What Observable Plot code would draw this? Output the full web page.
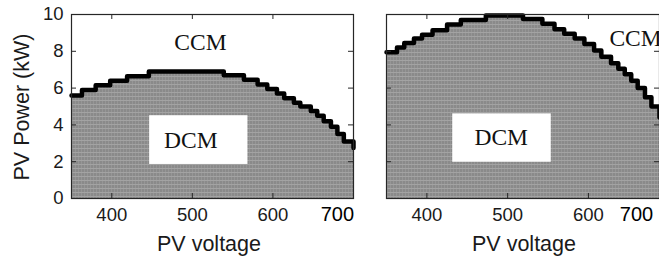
<!DOCTYPE html>
<html><head><meta charset="utf-8">
<script src="https://cdn.jsdelivr.net/npm/d3@7"></script>
<script src="https://cdn.jsdelivr.net/npm/@observablehq/plot@0.6"></script>
<style>
html,body{margin:0;padding:0;background:#fff;overflow:hidden;width:659px;height:258px}
#wrap{position:relative;width:659px;height:258px;overflow:hidden}
.p{position:absolute;top:0}
</style></head><body><div id="wrap"></div>
<script>
// Boundary between DCM (below) and CCM (above)
const leftVoltage = [350,363,380,398,419,446,539,564,581,593,605,614,626,634,647,655,663,672,680,688,700];
const leftPower   = [5.6,5.9,6.15,6.4,6.65,6.9,6.7,6.45,6.2,5.95,5.7,5.45,5.2,5.0,4.75,4.5,4.2,3.9,3.5,3.1,2.75];
const rightVoltage = [350,363,372,384,394,407,425,442,473,519,543,558,570,583,595,607,616,628,637,645,653,661,670,678,688];
const rightPower   = [7.95,8.2,8.45,8.7,8.9,9.15,9.45,9.7,9.95,9.75,9.5,9.2,8.95,8.7,8.4,8.05,7.7,7.35,7.05,6.75,6.4,6.0,5.5,5.0,4.4];
const xTicks = [400,500,600];
const yTicks = [0,2,4,6,8,10];
const lastTickLabel = ["700"];
const leftCCM = [{x:510,y:8.48,t:"CCM"}];
const leftDCM = [{x:498,y:3.15,t:"DCM"}];
const rightCCM = [{x:626,y:8.72,t:"CCM"}];
const rightDCM = [{x:492,y:3.33,t:"DCM"}];
const leftBox = [{x1:447,x2:569,y1:1.85,y2:4.5}];
const rightBox = [{x1:432,x2:554,y1:1.97,y2:4.6}];

function defs(id){
  return () => {
    const ns="http://www.w3.org/2000/svg";
    const d=document.createElementNS(ns,"defs");
    d.innerHTML=`<pattern id="${id}" width="3" height="4" patternUnits="userSpaceOnUse">
      <rect width="3" height="4" fill="#8a8a8a"/>
      <rect y="0" width="3" height="1" fill="#a3a3a3"/>
      <rect x="0" y="1" width="1" height="3" fill="#969696"/>
    </pattern>`;
    return d;
  };
}

const PH = 184; // plot height in px
const serif = {fontFamily:"Liberation Serif",fontSize:23.5,fill:"#111"};
const sans = {fontFamily:"Liberation Sans",fill:"#1a1a1a"};

function panel(vx, vy, xmax, ccm, dcm, ccmAnchor, box, showY, width, ml, pw, lastX){
  const id = "pat"+(showY?"L":"R");
  const data = vx.map((v,i)=>({v, p: vy[i]}));
  const marks = [
    defs(id),
    Plot.areaY(data,{x:"v",y:"p",curve:"step-after",fill:`url(#${id})`}),
    Plot.lineY(data,{x:"v",y:"p",curve:"step-after",stroke:"#000",strokeWidth:4.5}),
    Plot.rect(box,{x1:"x1",x2:"x2",y1:"y1",y2:"y2",fill:"#fff"}),
    Plot.text(ccm,{x:"x",y:"y",text:"t",textAnchor:ccmAnchor,...serif}),
    Plot.text(dcm,{x:"x",y:"y",text:"t",textAnchor:"middle",...serif}),
    // inward ticks (MATLAB box style)
    Plot.tickX(xTicks,{x:d=>d,insetTop:PH-5,stroke:"#262626"}),
    Plot.tickX(xTicks,{x:d=>d,insetBottom:PH-5,stroke:"#262626"}),
    Plot.tickY(yTicks,{y:d=>d,insetRight:pw-5,stroke:"#262626"}),
    Plot.tickY(yTicks,{y:d=>d,insetLeft:pw-5,stroke:"#262626"}),
    // tick labels
    Plot.text(xTicks,{x:d=>d,text:d=>String(d),frameAnchor:"bottom",dy:22,fontSize:18.5,...sans}),
    showY ? Plot.text(yTicks,{y:d=>d,text:d=>String(d),frameAnchor:"left",dx:-8,textAnchor:"end",fontSize:18.5,...sans}) : null,
    Plot.frame({stroke:"#262626",strokeWidth:1.2}),
    Plot.text(lastTickLabel,{x:lastX,frameAnchor:"bottom",dy:22,fontSize:20,fontFamily:"Liberation Sans",fill:"#000",text:d=>d})
  ];
  return Plot.plot({
    width, height:258, marginLeft:ml, marginRight: width - ml - pw, marginTop:14, marginBottom:60,
    x:{domain:[350,xmax], label:null, axis:null},
    y:{domain:[0,10], label:null, axis:null},
    style:{background:"transparent",overflow:"visible"},
    marks
  });
}

const wrap=document.getElementById("wrap");
const L = panel(leftVoltage,leftPower,700,leftCCM,leftDCM,"middle",leftBox,true,360,71,282,680);
L.classList.add("p"); L.style.left="0px";
const R = panel(rightVoltage,rightPower,688,rightCCM,rightDCM,"start",rightBox,false,300,26,273,659.5);
R.classList.add("p"); R.style.left="360px";
wrap.appendChild(L); wrap.appendChild(R);

// axis titles
function addText(t, css){const d=document.createElement("div");d.textContent=t;d.style.cssText="position:absolute;font-family:'Liberation Sans',Arial,sans-serif;color:#1a1a1a;white-space:nowrap;line-height:1;"+css;wrap.appendChild(d);}
addText("PV Power (kW)","font-size:21.5px;left:23px;top:107px;transform:translate(-50%,-50%) rotate(-90deg);");
addText("PV voltage","font-size:21.5px;left:209px;top:245px;transform:translate(-50%,-50%);");
addText("PV voltage","font-size:21.5px;left:524px;top:245px;transform:translate(-50%,-50%);");
</script></body></html>
